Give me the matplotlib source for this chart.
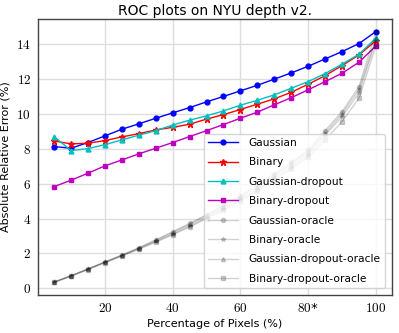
import matplotlib
matplotlib.use('Agg')
import matplotlib.pyplot as plt

# 데이터
pixels = [5, 10, 15, 20, 25, 30, 35, 40, 45, 50, 55, 60, 65, 70, 75, 80, 85, 90, 95, 100]

gaussian = [8.13, 8.03, 8.36, 8.74, 9.12, 9.43, 9.75, 10.06, 10.36, 10.69,
            11.00, 11.32, 11.64, 11.99, 12.35, 12.73, 13.15, 13.57, 14.03, 14.72]
binary = [8.45, 8.28, 8.32, 8.47, 8.68, 8.87, 9.08, 9.23, 9.41, 9.70,
          9.96, 10.25, 10.56, 10.86, 11.24, 11.70, 12.19, 12.77, 13.38, 14.20]
gaussian_dropout = [8.70, 7.90, 8.01, 8.24, 8.51, 8.78, 9.04, 9.36, 9.64, 9.89,
                    10.17, 10.50, 10.78, 11.09, 11.47, 11.85, 12.31, 12.85, 13.42, 14.34]
binary_dropout = [5.83, 6.20, 6.60, 7.02, 7.36, 7.71, 8.03, 8.36, 8.70, 9.04,
                  9.39, 9.75, 10.10, 10.52, 10.93, 11.38, 11.85, 12.33, 12.96, 13.90]

gaussian_oracle = [0.37, 0.73, 1.12, 1.52, 1.91, 2.33, 2.78, 3.25, 3.72, 4.22,
                   4.75, 5.30, 5.88, 6.55, 7.22, 7.92, 9.04, 10.13, 11.56, 14.72]
binary_oracle = [0.35, 0.71, 1.09, 1.49, 1.87, 2.27, 2.69, 3.12, 3.58, 4.06,
                 4.57, 5.10, 5.66, 6.33, 6.98, 7.66, 8.78, 9.85, 11.20, 14.20]
gaussian_dropout_oracle = [0.36, 0.72, 1.11, 1.51, 1.90, 2.31, 2.75, 3.20, 3.67, 4.16,
                           4.68, 5.22, 5.80, 6.46, 7.13, 7.82, 8.90, 10.00, 11.40, 14.34]
binary_dropout_oracle = [0.34, 0.70, 1.08, 1.47, 1.85, 2.24, 2.65, 3.07, 3.52, 3.99,
                         4.49, 5.01, 5.57, 6.22, 6.86, 7.52, 8.51, 9.56, 10.90, 13.90]

xticks = [20, 40, 60, 80, 100]
xtick_labels = ['$20$', '$40$', '$60$', '$80$*', '$100$']
yticks = [0, 2, 4, 6, 8, 10, 12, 14]

plt.rcParams['mathtext.fontset'] = 'cm'
plt.rcParams['font.family'] = 'DejaVu Sans'

fig = plt.figure(figsize=(3.99, 3.33), dpi=100)
ax = fig.add_subplot(111)
fig.subplots_adjust(left=38/399, right=392/399, top=1-19/333, bottom=1-295/333)

ax.plot(pixels, gaussian, 'b-o', ms=3.5, lw=1, label='Gaussian')
ax.plot(pixels, binary, 'r-*', ms=4.5, lw=1, label='Binary')
ax.plot(pixels, gaussian_dropout, 'c-^', ms=3.5, lw=1, label='Gaussian-dropout')
ax.plot(pixels, binary_dropout, 'm-s', ms=3.5, lw=1, label='Binary-dropout')
ax.plot(pixels, gaussian_oracle, 'k-o', ms=3, lw=1, alpha=0.18, label='Gaussian-oracle')
ax.plot(pixels, binary_oracle, 'k-*', ms=3.5, lw=1, alpha=0.18, label='Binary-oracle')
ax.plot(pixels, gaussian_dropout_oracle, 'k-^', ms=3, lw=1, alpha=0.18, label='Gaussian-dropout-oracle')
ax.plot(pixels, binary_dropout_oracle, 'k-s', ms=3, lw=1, alpha=0.18, label='Binary-dropout-oracle')

ax.set_xticks(xticks)
ax.set_xticklabels(xtick_labels)
ax.set_yticks(yticks)
ax.set_yticklabels(['$%d$' % v for v in yticks])
ax.tick_params(length=0, labelsize=9.5, pad=5)

ax.grid(True, color='#dddddd', lw=1)
ax.set_axisbelow(True)
for s in ax.spines.values():
    s.set_color('#444444')
    s.set_linewidth(1)

ax.set_title('ROC plots on NYU depth v2.', fontsize=10, pad=3)
ax.set_xlabel('Percentage of Pixels (%)', fontsize=8, labelpad=3)
ax.set_ylabel('Absolute Relative Error (%)', fontsize=8, labelpad=4)

leg = ax.legend(loc='lower right', fontsize=7.7, framealpha=0.8, edgecolor='#cccccc',
                handlelength=2.8, handletextpad=1.0, labelspacing=0.88, borderaxespad=0.65)

plt.savefig('out.png', dpi=100)
